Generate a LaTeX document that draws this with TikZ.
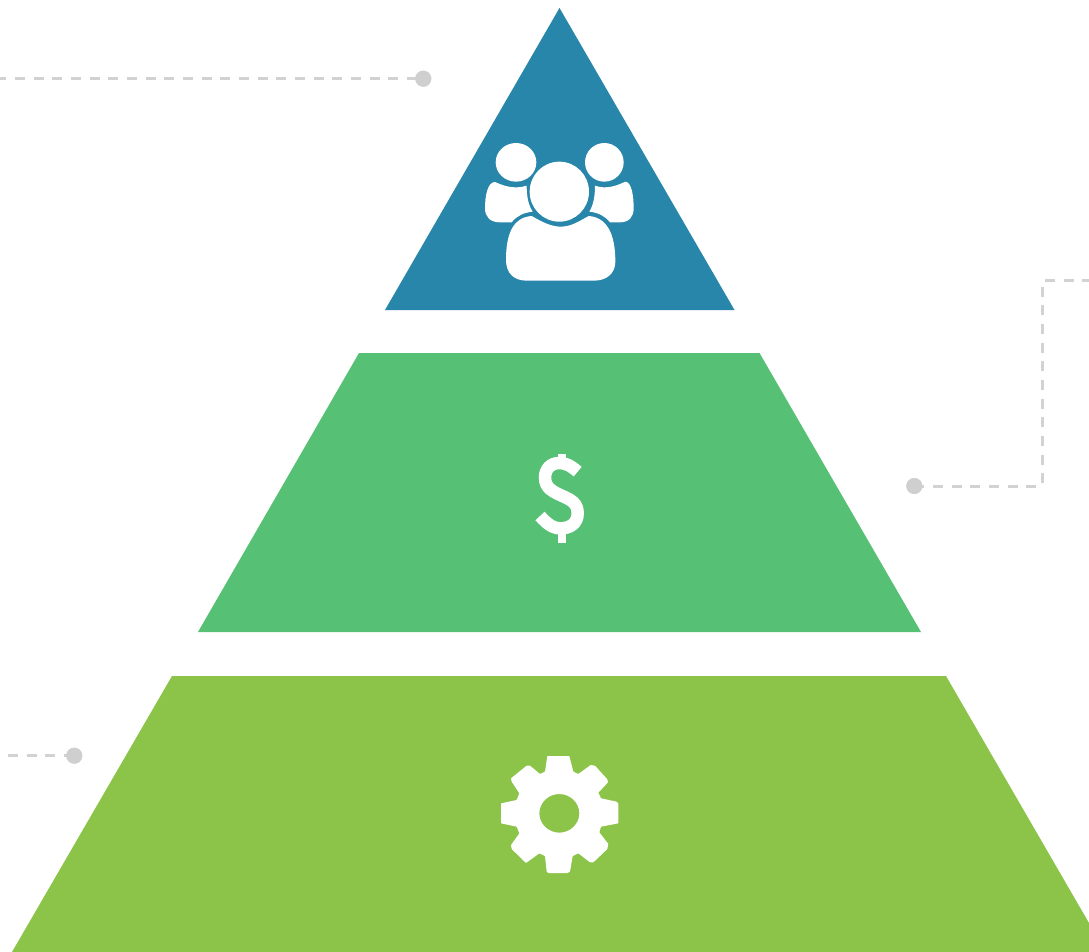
\documentclass[tikz,border=0pt]{standalone}
\definecolor{pblue}{HTML}{2786A9}
\definecolor{pgreen}{HTML}{56C074}
\definecolor{plime}{HTML}{8CC44A}
\definecolor{dotgray}{HTML}{CFCFCF}
\definecolor{dashgray}{HTML}{D2D2D2}
\tikzset{
  leader/.style={draw=dashgray,line width=3pt,dash pattern=on 10pt off 8.67pt},
  enddot/.style={circle,fill=dotgray,minimum size=16pt,inner sep=0pt,outer sep=0pt},
  icon/.style={fill=white,draw=none},
  zoomed/.style={x=0.33333pt,y=-0.33333pt}
}
\begin{document}
\begin{tikzpicture}[x=1pt,y=-1pt]
\useasboundingbox (0,0) rectangle (1089,952);
\fill[white] (0,0) rectangle (1089,952);
% pyramid
\fill[pblue] (559.5,8) -- (734.5,310) -- (385,310) -- cycle;
\fill[pgreen] (359,353) -- (759.5,353) -- (921,632) -- (198,632) -- cycle;
\fill[plime] (172,676) -- (946,676) -- (1089,923) -- (1089,952) -- (12,952) -- cycle;
% leaders
\coordinate (tl) at (0,78.7);
\coordinate (bl) at (8,755.7);
\coordinate (rc1) at (1042.3,486);
\coordinate (rc2) at (1042.3,280.7);
\coordinate (rend) at (1089,280.7);
\node[enddot] (d1) at (423.3,78.7) {};
\node[enddot] (d3) at (74.3,755.7) {};
\node[enddot] (d2) at (914.3,486) {};
\draw[leader,dash phase=3.67pt] (tl) -- (d1.center);
\draw[leader] (bl) -- (d3.center);
\draw[leader] (d2.center) -- (rc1) -- (rc2) -- (rend);
\node[enddot] at (d1.center) {};
\node[enddot] at (d3.center) {};
\node[enddot] at (d2.center) {};
% people
\begin{scope}[shift={(470,130)},zoomed]
\fill[icon] (138,97) ellipse [x radius=61,y radius=58];
\fill[icon] (403,97) ellipse [x radius=58,y radius=58];
\fill[icon] (268,185) ellipse [x radius=89,y radius=90];
\fill[icon] (75,156) .. controls (95,165) and (130,180) .. (170,167)
  .. controls (170,200) and (175,225) .. (188,245)
  .. controls (160,248) and (140,258) .. (125,277)
  -- (90,277) .. controls (60,277) and (45,260) .. (45,235)
  .. controls (45,200) and (52,156) .. (75,156) -- cycle;
\fill[icon] (466,155) .. controls (445,165) and (410,180) .. (375,167)
  .. controls (375,200) and (370,225) .. (358,245)
  .. controls (385,248) and (405,258) .. (420,277)
  -- (450,277) .. controls (478,277) and (491,260) .. (491,235)
  .. controls (491,200) and (485,155) .. (466,155) -- cycle;
\fill[icon] (185,258) .. controls (210,272) and (240,290) .. (272,290)
  .. controls (305,290) and (330,272) .. (356,258)
  .. controls (410,262) and (436,310) .. (436,395)
  .. controls (436,430) and (410,452) .. (372,452)
  -- (170,452) .. controls (132,452) and (108,430) .. (108,390)
  .. controls (108,310) and (130,262) .. (185,258) -- cycle;
\end{scope}
% dollar
\begin{scope}[shift={(520,445)},zoomed]
\fill[icon] (113,28) rectangle (137,50);
\fill[icon] (113,250) rectangle (137,295);
\draw[white,line width=12.5pt] (173,80) .. controls (150,60) and (135,54) .. (118,54)
  .. controls (92,54) and (75,72) .. (75,98)
  .. controls (75,130) and (100,140) .. (125,152)
  .. controls (155,165) and (173,175) .. (173,205)
  .. controls (173,235) and (150,250) .. (122,250)
  .. controls (97,250) and (80,235) .. (60,213);
\end{scope}
% gear
\begin{scope}[shift={(490,745)},zoomed]
\fill[icon,even odd rule,rounded corners=0.6pt]
 (172,33) -- (238,33) -- (250,80) -- (265,87) -- (302,60) -- (315,62) -- (352,103) -- (354,112)
 -- (325,143) -- (333,160) -- (380,170) -- (385,175) -- (385,235) -- (333,245) -- (328,262)
 -- (355,297) -- (352,312) -- (310,352) -- (300,352) -- (265,325) -- (248,333) -- (240,380)
 -- (232,384) -- (175,384) -- (170,380) -- (165,333) -- (148,325) -- (108,354) -- (65,312)
 -- (63,300) -- (88,265) -- (80,245) -- (33,235) -- (33,175) -- (80,165) -- (88,145)
 -- (65,110) -- (63,100) -- (110,62) -- (120,62) -- (150,87) -- (165,80) -- cycle
 (208,205) ellipse [x radius=60,y radius=58];
\end{scope}
\end{tikzpicture}
\end{document}
